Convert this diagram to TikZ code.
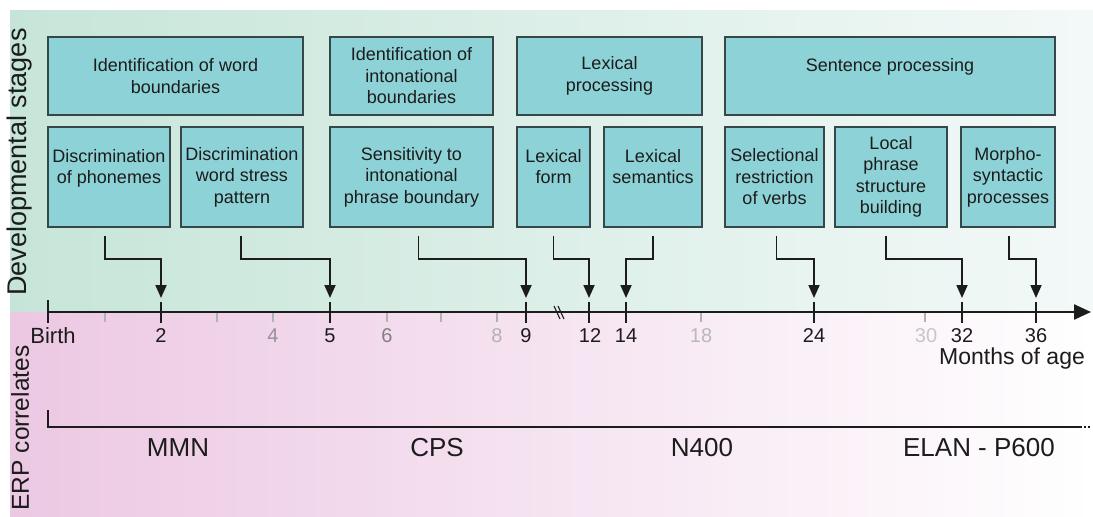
\documentclass[tikz,border=0pt]{standalone}
\usepackage{fontspec}
\setmainfont{Liberation Sans}
\usetikzlibrary{arrows.meta}
\definecolor{boxfill}{RGB}{141,210,214}
\definecolor{boxline}{RGB}{55,70,72}
\definecolor{mintbg}{RGB}{198,229,216}
\definecolor{mintend}{RGB}{243,249,248}
\definecolor{pinkbg}{RGB}{236,200,227}
\definecolor{tickgray}{RGB}{178,178,178}
\definecolor{inkdark}{RGB}{28,28,28}

\tikzset{
  stage/.style={draw=boxline, fill=boxfill, line width=1.4pt, align=center, inner sep=0pt,
    text=inkdark, font=\fontsize{18}{21.5}\selectfont},
  conn/.style={draw=inkdark, line width=1.8pt, -{Triangle[width=11pt,length=13pt]}, shorten >=14pt},
  majtick/.style={draw=inkdark, line width=2pt},
  mintick/.style={draw=tickgray, line width=1.6pt},
  ticklab/.style={font=\fontsize{20}{22}\selectfont, text=inkdark},
  greylab/.style={font=\fontsize{20}{22}\selectfont},
  erplab/.style={font=\fontsize{26}{28}\selectfont, text=inkdark}
}

\begin{document}
\begin{tikzpicture}[x=1pt, y=-1pt]
\useasboundingbox (0,0) rectangle (1093,517);
\shade[left color=mintbg, right color=mintend] (10,10) rectangle (1093,312);
\shade[left color=pinkbg, right color=white] (10,312) rectangle (1093,517);

\node[rotate=90, font=\fontsize{27}{30}\selectfont, text=inkdark] (devlab) at (20,162) {Developmental stages};
\node[rotate=90, font=\fontsize{24.5}{27}\selectfont, text=inkdark] (erplab) at (20,428) {ERP correlates};

\node[stage, minimum width=255pt, minimum height=78pt] (wordb) at (175.5,76) {Identification of word\\boundaries};
\node[stage, minimum width=163pt, minimum height=78pt] (intob) at (411.5,76) {Identification of\\intonational\\boundaries};
\node[stage, minimum width=185pt, minimum height=78pt] (lexproc) at (609.5,76) {Lexical\\processing};
\node[stage, minimum width=330pt, minimum height=78pt] (sentproc) at (890,76) {Sentence processing\\\mbox{}};

\node[stage, minimum width=122pt, minimum height=100pt] (phon) at (109,177) {Discrimination\\of phonemes\\\mbox{}};
\node[stage, minimum width=122pt, minimum height=100pt] (stress) at (242,177) {Discrimination\\word stress\\pattern};
\node[stage, minimum width=163pt, minimum height=100pt] (sens) at (411.5,177) {Sensitivity to\\intonational\\phrase boundary};
\node[stage, minimum width=73pt, minimum height=100pt] (lexform) at (553.5,177) {Lexical\\form\\\mbox{}};
\node[stage, minimum width=98pt, minimum height=100pt] (lexsem) at (653,177) {Lexical\\semantics\\\mbox{}};
\node[stage, minimum width=99pt, minimum height=100pt] (selres) at (774.5,177) {Selectional\\restriction\\of verbs};
\node[stage, minimum width=112pt, minimum height=100pt] (locph) at (891,177) {Local\\phrase\\structure\\building};
\node[stage, minimum width=94pt, minimum height=100pt] (morph) at (1008,177) {Morpho-\\syntactic\\processes};

\coordinate (m0) at (48,312);
\coordinate (m1) at (105,312);
\coordinate (m2) at (161,312);
\coordinate (m3) at (217,312);
\coordinate (m4) at (273,312);
\coordinate (m5) at (330,312);
\coordinate (m6) at (387,312);
\coordinate (m7) at (441,312);
\coordinate (m8) at (497,312);
\coordinate (m9) at (526,312);
\coordinate (mbreak) at (559,312);
\coordinate (m12) at (589,312);
\coordinate (m14) at (626,312);
\coordinate (m18) at (701,312);
\coordinate (m24) at (814,312);
\coordinate (m30) at (925,312);
\coordinate (m32) at (962,312);
\coordinate (m36) at (1036,312);
\coordinate (axend) at (1091,312);

\draw[mintick] (m1) -- ++(0,10) (m3) -- ++(0,10) (m4) -- ++(0,10) (m6) -- ++(0,10) (m7) -- ++(0,10)
    (m8) -- ++(0,10) (m18) -- ++(0,10) (m30) -- ++(0,10);
\draw[inkdark, line width=2.4pt, -{Triangle[width=15pt,length=17pt]}] (m0) -- (axend);
\draw[majtick] (m0) ++(0,-12) -- ++(0,23);
\draw[majtick] (m2) ++(0,-10) -- ++(0,21) (m5) ++(0,-10) -- ++(0,21) (m9) ++(0,-10) -- ++(0,21)
    (m12) ++(0,-10) -- ++(0,21) (m14) ++(0,-10) -- ++(0,21) (m24) ++(0,-10) -- ++(0,21)
    (m32) ++(0,-10) -- ++(0,21) (m36) ++(0,-10) -- ++(0,21);
\draw[inkdark, line width=1.1pt] (mbreak) ++(-5,-6) -- ++(6,13) (mbreak) ++(-1,-6) -- ++(6,13);

\node[font=\fontsize{22}{24}\selectfont, text=inkdark] (lbirth) at (53,336) {Birth};
\node[ticklab] (l2) at (161,336) {2};
\node[greylab, text=gray!85] (l4) at (273,336) {4};
\node[ticklab] (l5) at (330,336) {5};
\node[greylab, text=gray] (l6) at (387,336) {6};
\node[greylab, text=gray!60] (l8) at (497,336) {8};
\node[ticklab] (l9) at (526,336) {9};
\node[ticklab] (l12) at (590,336) {12};
\node[ticklab] (l14) at (626,336) {14};
\node[greylab, text=gray!55] (l18) at (701,336) {18};
\node[ticklab] (l24) at (814,336) {24};
\node[greylab, text=gray!45] (l30) at (926,336) {30};
\node[ticklab] (l32) at (962,336) {32};
\node[ticklab] (l36) at (1036,336) {36};
\node[font=\fontsize{23}{25}\selectfont, text=inkdark] (months) at (1012,359) {Months of age};

\draw[conn] ([xshift=-4pt,yshift=-8pt]phon.south) -- ++(0,23) -| (m2);
\draw[conn] ([xshift=-1pt,yshift=-8pt]stress.south) -- ++(0,23) -| (m5);
\draw[conn] ([xshift=7pt,yshift=-8pt]sens.south) -- ++(0,23) -| (m9);
\draw[conn] ([yshift=-8pt]lexform.south) -- ++(0,23) -| (m12);
\draw[conn] ([yshift=-8pt]lexsem.south) -- ++(0,23) -| (m14);
\draw[conn] ([xshift=2pt,yshift=-8pt]selres.south) -- ++(0,23) -| (m24);
\draw[conn] ([xshift=-5pt,yshift=-8pt]locph.south) -- ++(0,23) -| (m32);
\draw[conn] ([xshift=1pt,yshift=-8pt]morph.south) -- ++(0,23) -| (m36);

\coordinate (erp0) at (48,427);
\coordinate (erpend) at (1080,427);
\draw[inkdark, line width=2.2pt] (erp0) ++(0,-17) -- (erp0) -- (erpend);
\draw[inkdark, line width=2pt, dash pattern=on 1.5pt off 2.5pt] (erpend) -- ++(10,0);

\node[erplab] (mmn) at (178,448) {MMN};
\node[erplab] (cps) at (437,448) {CPS};
\node[erplab] (nfour) at (702,448) {N400};
\node[erplab] (elan) at (979,448) {ELAN - P600};
\end{tikzpicture}
\end{document}
